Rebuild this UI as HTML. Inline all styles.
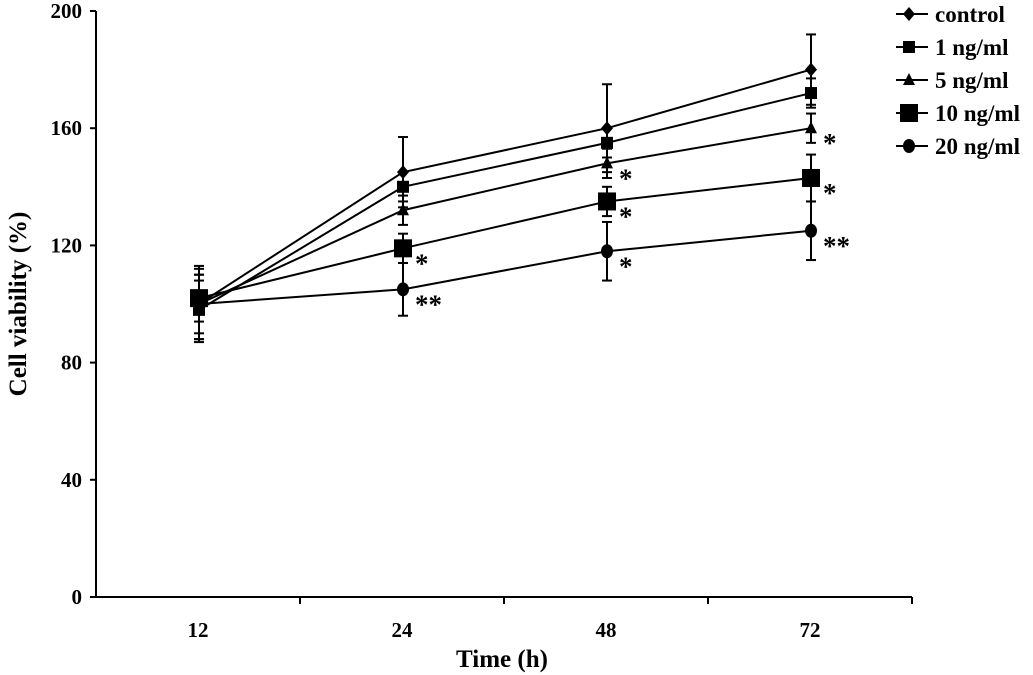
<!DOCTYPE html>
<html><head><meta charset="utf-8"><style>
body{margin:0;background:#fff;}
svg{display:block;font-family:"Liberation Serif",serif;font-weight:bold;}
</style></head><body>
<svg id="c" width="1033" height="675" viewBox="0 0 1033 675"></svg>
<script>
const categories=["12","24","48","72"];
const seriesNames=["control","1 ng/ml","5 ng/ml","10 ng/ml","20 ng/ml"];
const controlVals=[100,145,160,180];
const ng1Vals=[98,140,155,172];
const ng5Vals=[100,132,148,160];
const ng10Vals=[102,119,135,143];
const ng20Vals=[100,105,118,125];
const controlErr=[12,12,15,12];
const ng1Err=[10,5,5,5];
const ng5Err=[10,5,5,5];
const ng10Err=[8,5,5,8];
const ng20Err=[13,9,10,10];
const stars=[["","","",""],["","","",""],["","","*","*"],["","*","*","*"],["","**","*","**"]];
const yTicks=[0,40,80,120,160,200];
const allVals=[controlVals,ng1Vals,ng5Vals,ng10Vals,ng20Vals];
const allErr=[controlErr,ng1Err,ng5Err,ng10Err,ng20Err];
const markers=["diamond","square","triangle","bigsquare","circle"];
const NS="http://www.w3.org/2000/svg";
const svg=document.getElementById('c');
const X0=96,X1=912,Y0=597,Y1=11;
const yS=v=>Y0-(v/200)*(Y0-Y1);
const bw=(X1-X0)/categories.length;
const xS=i=>X0+bw*(i+0.5);
function mk(t,a,p){const e=document.createElementNS(NS,t);for(const k in a)e.setAttribute(k,a[k]);(p||svg).appendChild(e);return e;}
function marker(type,x,y,g){
 if(type==="diamond")return mk('polygon',{points:`${x},${y-7} ${x+6},${y} ${x},${y+7} ${x-6},${y}`,fill:'#000'},g);
 if(type==="square")return mk('rect',{x:x-6,y:y-6,width:12,height:12,fill:'#000'},g);
 if(type==="triangle")return mk('polygon',{points:`${x},${y-7} ${x+6},${y+5} ${x-6},${y+5}`,fill:'#000'},g);
 if(type==="bigsquare")return mk('rect',{x:x-9,y:y-9,width:18,height:18,fill:'#000'},g);
 return mk('ellipse',{cx:x,cy:y,rx:6,ry:7,fill:'#000'},g);
}
const ax=mk('path',{d:`M${X0},${Y1} V${Y0} H${X1}`,stroke:'#000','stroke-width':2,fill:'none'});


yTicks.forEach(t=>{
 mk('line',{x1:X0-6,x2:X0,y1:yS(t),y2:yS(t),stroke:'#000','stroke-width':2});
 const tx=mk('text',{x:X0-14,y:yS(t)+7,'text-anchor':'end','font-size':21});
 tx.textContent=t;
 
 
});
for(let i=1;i<=categories.length;i++){mk('line',{x1:X0+bw*i,x2:X0+bw*i,y1:Y0,y2:Y0+7,stroke:'#000','stroke-width':2});}
categories.forEach((c,i)=>{
 const tx=mk('text',{x:xS(i),y:Y0+40,'text-anchor':'middle','font-size':21});
 tx.textContent=c;
 
 
});
const xt=mk('text',{x:502,y:667,'text-anchor':'middle','font-size':25});
xt.textContent="Time (h)";


const yt=mk('text',{x:0,y:0,'text-anchor':'middle','font-size':25,transform:'translate(26,304) rotate(-90)'});
yt.textContent="Cell viability (%)";


allVals.forEach((vals,s)=>{
 const g=mk('g',{});
 
 
 mk('polyline',{points:vals.map((v,i)=>`${xS(i)+1},${yS(v)}`).join(' '),fill:'none',stroke:'#000','stroke-width':2},g);
 vals.forEach((v,i)=>{
  const x=xS(i)+1,e=allErr[s][i];
  mk('line',{x1:x,x2:x,y1:yS(v+e),y2:yS(v-e),stroke:'#000','stroke-width':2},g);
  mk('line',{x1:x-5,x2:x+5,y1:yS(v+e),y2:yS(v+e),stroke:'#000','stroke-width':2},g);
  mk('line',{x1:x-5,x2:x+5,y1:yS(v-e),y2:yS(v-e),stroke:'#000','stroke-width':2},g);
  marker(markers[s],x,yS(v),g);
  if(stars[s][i]){const st=mk('text',{x:x+12,y:yS(v)+24,'font-size':27},g);st.textContent=stars[s][i];}
 });
});
seriesNames.forEach((n,s)=>{
 const y=14+33*s;
 const g=mk('g',{});
 
 
 mk('line',{x1:896,x2:928,y1:y,y2:y,stroke:'#000','stroke-width':2},g);
 marker(markers[s],909,y,g);
 const t=mk('text',{x:935,y:y+8,'font-size':23},g);t.textContent=n;
});
</script>
</body></html>
